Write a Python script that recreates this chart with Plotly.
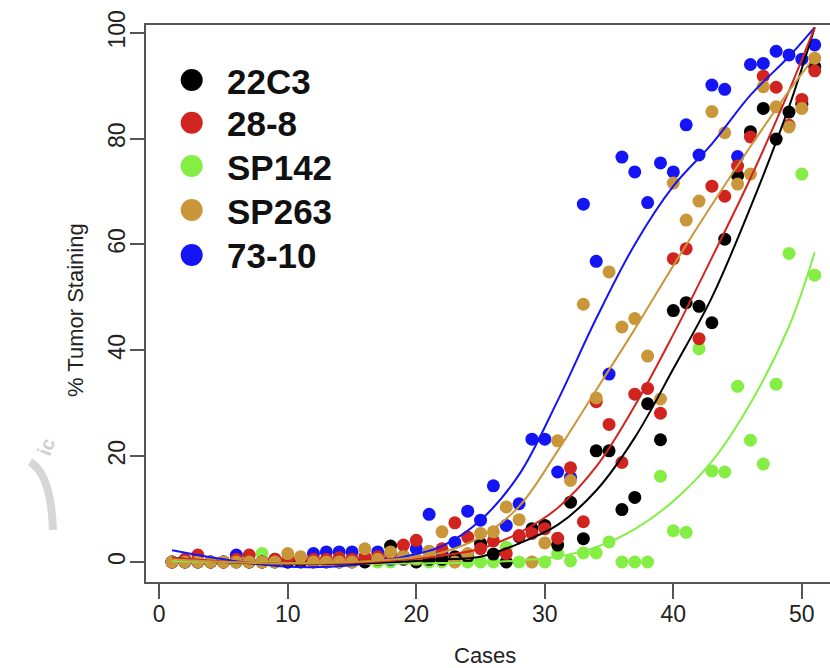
import plotly.graph_objects as go

# ---------------- data ----------------
cases = list(range(1, 52))

ab_22C3 = [0, 0, 0, 0, 0, 0, 0, 0, 0, 0, 0, 0, 0, 0, 0, 0, 0.5, 3.0, 0.5, 0,
           0.5, 0.5, 1.0, 1.0, 3.5, 1.5, 0, 4.8, 6.3, 6.9, 3.2, 11.3, 4.4, 21.0, 21.0, 9.9,
           12.2, 29.9, 23.1, 47.5, 49.0, 48.3, 45.2, 61.0, 73.0, 81.3, 85.7, 79.9, 85.0, 86.5, 93.6]
ab_28_8 = [0, 0.5, 1.3, 0, 0, 0.5, 1.3, 0, 0.5, 0.5, 0.5, 0.5, 0.5, 0.8, 0.5, 1.0, 1.0, 1.5, 3.2, 4.1,
           2.0, 2.5, 7.4, 4.7, 2.5, 4.0, 1.6, 5.0, 5.4, 6.3, 4.5, 17.8, 7.6, 30.3, 26.0, 18.8,
           31.7, 32.8, 28.1, 57.3, 59.2, 42.2, 71.0, 69.1, 74.8, 80.3, 91.8, 89.7, 82.5, 87.4, 92.8]
ab_SP142 = [0, 0, 0, 0, 0, 0, 0, 1.6, 0, 0, 0, 0, 0, 0, 1.2, 0, 0, 0, 1.2, 0,
            0, 0, 0, 0, 0, 0, 2.8, 0, 0, 0, 1.6, 0.2, 1.7, 1.7, 3.8, 0,
            0, 0, 16.2, 5.9, 5.6, 40.3, 17.2, 17.0, 33.2, 23.0, 18.5, 33.6, 58.3, 73.3, 54.2]
ab_SP263 = [0, 0, 0, 0, 0, 0, 0, 0, 0, 1.6, 1.0, 0, 0, 0, 0, 2.5, 0.5, 1.9, 1.0, 0.5,
            2.0, 5.7, 0, 1.6, 5.4, 5.7, 10.4, 8.0, 0, 3.6, 22.9, 15.4, 48.7, 31.0, 54.8, 44.4,
            46.0, 38.9, 30.8, 71.6, 64.6, 68.2, 85.1, 81.1, 71.4, 73.3, 89.8, 86.0, 82.2, 85.7, 95.2]
ab_73_10 = [0, 0, 0, 0, 0, 1.3, 0, 0, 0.5, 0, 0.5, 1.6, 1.9, 1.9, 1.9, 0.5, 1.9, 0.5, 1.0, 2.5,
            9.0, 1.5, 3.7, 9.6, 7.9, 14.4, 6.9, 11.0, 23.2, 23.2, 17.0, 16.0, 67.6, 56.8, 35.5, 76.5,
            73.7, 67.9, 75.4, 73.7, 82.6, 76.9, 90.1, 89.3, 76.6, 94.0, 94.2, 96.5, 95.8, 95.0, 97.7]

# fitted trend curves at these cases
fit_x = [1, 5, 10, 15, 20, 22, 25, 28, 31, 34, 37, 40, 43, 46, 49, 51]
fit_22C3 = [0.8, 0.0, -0.4, -0.3, 0.2, 0.5, 1.0, 3.5, 7.0, 13.5, 23.5, 36.5, 50.0, 67.0, 86.0, 101.0]
fit_28_8 = [0.8, 0.1, -0.3, -0.2, 0.6, 1.2, 2.5, 5.5, 10.2, 18.0, 29.5, 43.0, 57.5, 72.5, 89.0, 101.0]
fit_SP142 = [0.2, 0.0, -0.2, -0.3, -0.3, -0.2, -0.1, 0.3, 1.0, 2.8, 6.2, 11.5, 19.0, 30.0, 44.5, 58.5]
fit_SP263 = [0.5, 0.0, -0.3, 0.0, 0.9, 1.8, 4.7, 10.5, 21.0, 32.5, 44.0, 56.0, 67.5, 78.5, 89.0, 95.5]
fit_73_10 = [2.2, 0.5, -0.9, -0.6, 1.5, 3.0, 7.9, 16.5, 30.5, 46.0, 60.0, 71.0, 79.0, 88.2, 95.5, 101.0]

names = ["22C3", "28-8", "SP142", "SP263", "73-10"]
colors = {"22C3": "#000000", "28-8": "#D1241F", "SP142": "#84EE45",
          "SP263": "#C9973A", "73-10": "#1414F5"}
points = {"22C3": ab_22C3, "28-8": ab_28_8, "SP142": ab_SP142,
          "SP263": ab_SP263, "73-10": ab_73_10}
fits = {"22C3": fit_22C3, "28-8": fit_28_8, "SP142": fit_SP142,
        "SP263": fit_SP263, "73-10": fit_73_10}

x_ticks = [0, 10, 20, 30, 40, 50]
y_ticks = [0, 20, 40, 60, 80, 100]

# ---------------- figure ----------------
FONT = "Liberation Sans, Arial, Helvetica, sans-serif"
W, H = 830, 668
ML, MR, MT, MB = 146, 0, 25, 86
PW, PH = W - ML - MR, H - MT - MB

def px(xp):
    return (xp - ML) / PW

def py(yp):
    return (H - MB - yp) / PH

fig = go.Figure()

draw_order = ["SP142", "73-10", "22C3", "28-8", "SP263"]
for n in draw_order:
    fig.add_trace(go.Scatter(x=cases, y=points[n], mode="markers", name=n,
                             marker=dict(size=13, color=colors[n], line=dict(width=0)),
                             showlegend=False))
for n in draw_order:
    fig.add_trace(go.Scatter(x=fit_x, y=fits[n], mode="lines", name=n + " fit",
                             line=dict(color=colors[n], width=2, shape="spline", smoothing=1.0),
                             showlegend=False))

shapes = []
annotations = []

# legend drawn manually (large symbols)
leg_rows = [80, 122.7, 166, 210, 255]
for n, yy in zip(names, leg_rows):
    shapes.append(dict(type="circle", xref="paper", yref="paper",
                       xsizemode="pixel", ysizemode="pixel",
                       xanchor=px(191.7), yanchor=py(yy),
                       x0=-11, x1=11, y0=-11, y1=11,
                       fillcolor=colors[n], line=dict(width=0)))
    annotations.append(dict(text="<b>" + n + "</b>", xref="paper", yref="paper",
                            x=px(225), y=py(yy + 1), xanchor="left", yanchor="middle",
                            showarrow=False, font=dict(family=FONT, size=35, color="#111")))

# axis titles
annotations.append(dict(text="Cases", xref="paper", yref="paper", x=px(485), y=py(655),
                        xanchor="center", yanchor="middle", showarrow=False,
                        font=dict(family=FONT, size=22, color="#222")))
annotations.append(dict(text="% Tumor Staining", xref="paper", yref="paper", x=px(75), y=py(310),
                        xanchor="center", yanchor="middle", textangle=-90, showarrow=False,
                        font=dict(family=FONT, size=22, color="#222")))

# faint watermark fragment at the left edge
shapes.append(dict(type="path", xref="paper", yref="paper",
                   path="M {:.4f},{:.4f} Q {:.4f},{:.4f} {:.4f},{:.4f}".format(
                       px(30), py(462), px(51), py(474), px(53), py(530)),
                   line=dict(color="#d6d6d6", width=8)))
annotations.append(dict(text="<b>ic</b>", xref="paper", yref="paper", x=px(46), y=py(447),
                        xanchor="center", yanchor="middle", textangle=-70, showarrow=False,
                        font=dict(family=FONT, size=20, color="#cfcfcf")))

fig.update_layout(
    width=W, height=H,
    margin=dict(l=ML, r=MR, t=MT, b=MB, pad=0),
    plot_bgcolor="white", paper_bgcolor="white",
    showlegend=False,
    font=dict(family=FONT, size=23, color="#222"),
    shapes=shapes, annotations=annotations,
    xaxis=dict(range=[-1.03, 52.19], tickmode="array", tickvals=x_ticks,
               ticks="outside", ticklen=15, tickwidth=1.5, tickcolor="#555",
               ticklabelstandoff=-5,
               showline=True, linecolor="#555", linewidth=2, mirror=True,
               showgrid=False, zeroline=False,
               tickfont=dict(family=FONT, size=23, color="#222")),
    yaxis=dict(range=[-3.78, 101.46], tickmode="array", tickvals=y_ticks,
               ticks="outside", ticklen=14, tickwidth=1.5, tickcolor="#555",
               tickangle=-90, ticklabelstandoff=-4,
               showline=True, linecolor="#555", linewidth=2, mirror=False,
               showgrid=False, zeroline=False,
               tickfont=dict(family=FONT, size=23, color="#222")),
)

fig.write_html("out.html", config={"displayModeBar": False},
               post_script="document.body.style.margin='0';document.body.style.overflow='hidden';")
